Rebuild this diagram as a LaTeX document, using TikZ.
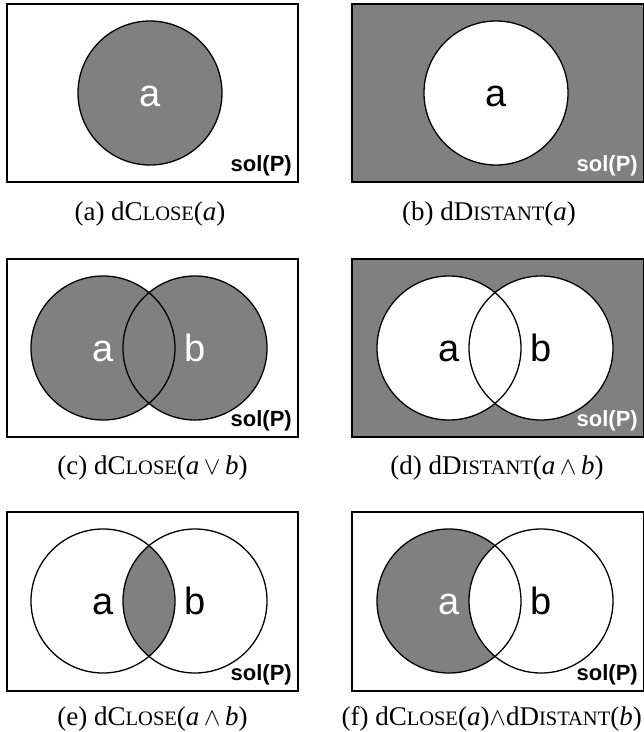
\documentclass[tikz,border=0pt]{standalone}
\usepackage{fontspec}
\setmainfont{Liberation Serif}
\setsansfont{Liberation Sans}
\newcommand\lblfont{\sffamily\fontsize{38}{38}\selectfont}
\newcommand\solfont{\sffamily\bfseries\fontsize{22}{22}\selectfont}
\newcommand\capfont{\rmfamily\fontsize{27}{27}\selectfont}
\newcommand\fsc[1]{{\fontsize{20.5}{20.5}\selectfont #1}}
\definecolor{venngray}{RGB}{128,128,128}
\begin{document}
\begin{tikzpicture}[x=1pt,y=-1pt,
  panelframe/.style={line width=1.3pt},
  ring/.style={line width=1.3pt},
  lbl/.style={anchor=base, inner sep=0pt, font=\lblfont},
  soltext/.style={anchor=base east, inner sep=0pt, font=\solfont},
  captext/.style={anchor=base, inner sep=0pt, font=\capfont}]
\useasboundingbox (0,0) rectangle (644,732);

% ---------- (a)
\draw[panelframe, fill=white] (7,4) rectangle (298,182);
\draw[ring, fill=venngray] (150,93) circle[radius=72pt];
\node[lbl, text=white] (la) at (150,106.5) {a};
\node[soltext] (sa) at (292,171.5) {sol(P)};
\node[captext] (capa) at (150,220) {(a) dC\fsc{LOSE}(\textit{a})};

% ---------- (b)
\draw[panelframe, fill=venngray] (352,4) rectangle (643.4,182);
\draw[ring, fill=white] (496,93) circle[radius=72pt];
\node[lbl] (lb) at (496,106.5) {a};
\node[soltext, text=white] (sb) at (638,171.5) {sol(P)};
\node[captext] (capb) at (489,220) {(b) dD\fsc{ISTANT}(\textit{a})};

% ---------- (c)
\draw[panelframe, fill=white] (7,259) rectangle (298,437);
\fill[venngray] (103,348) circle[radius=72pt];
\fill[venngray] (195,348) circle[radius=72pt];
\draw[ring] (103,348) circle[radius=72pt];
\draw[ring] (195,348) circle[radius=72pt];
\node[lbl, text=white] (lca) at (103,361.5) {a};
\node[lbl, text=white] (lcb) at (195,361.5) {b};
\node[soltext] (sc) at (292,426.5) {sol(P)};
\node[captext] (capc) at (152.5,474) {(c) dC\fsc{LOSE}(\textit{a}\,$\vee$\,\textit{b})};

% ---------- (d)
\draw[panelframe, fill=venngray] (352,259) rectangle (643.4,437);
\fill[white] (449,348) circle[radius=72pt];
\fill[white] (541,348) circle[radius=72pt];
\draw[ring] (449,348) circle[radius=72pt];
\draw[ring] (541,348) circle[radius=72pt];
\node[lbl] (lda) at (449,361.5) {a};
\node[lbl] (ldb) at (541,361.5) {b};
\node[soltext, text=white] (sd) at (638,426.5) {sol(P)};
\node[captext] (capd) at (497,474) {(d) dD\fsc{ISTANT}(\textit{a}\,$\wedge$\,\textit{b})};

% ---------- (e)
\draw[panelframe, fill=white] (7,512) rectangle (298,691);
\begin{scope}
  \clip (103,601) circle[radius=72pt];
  \fill[venngray] (195,601) circle[radius=72pt];
\end{scope}
\draw[ring] (103,601) circle[radius=72pt];
\draw[ring] (195,601) circle[radius=72pt];
\node[lbl] (lea) at (103,614.5) {a};
\node[lbl] (leb) at (195,614.5) {b};
\node[soltext] (se) at (292,680) {sol(P)};
\node[captext] (cape) at (152.5,725) {(e) dC\fsc{LOSE}(\textit{a}\,$\wedge$\,\textit{b})};

% ---------- (f)
\draw[panelframe, fill=white] (352,512) rectangle (643.4,691);
\fill[venngray] (449,601) circle[radius=72pt];
\fill[white] (541,601) circle[radius=72pt];
\draw[ring] (449,601) circle[radius=72pt];
\draw[ring] (541,601) circle[radius=72pt];
\node[lbl, text=white] (lfa) at (449,614.5) {a};
\node[lbl] (lfb) at (541,614.5) {b};
\node[soltext] (sf) at (638,680) {sol(P)};
\node[captext, anchor=base east] (capf) at (642,725) {(f) dC\fsc{LOSE}(\textit{a})$\wedge$dD\fsc{ISTANT}(\textit{b})};
\end{tikzpicture}
\end{document}
